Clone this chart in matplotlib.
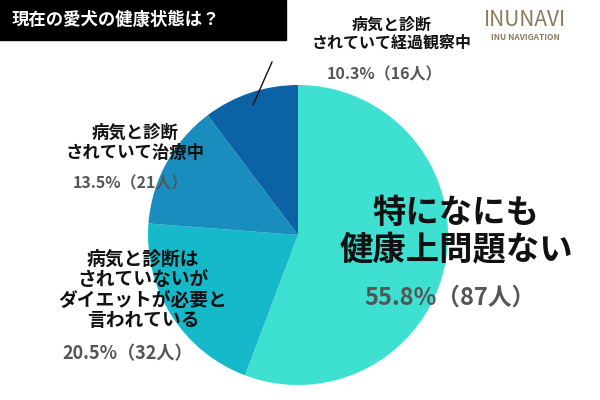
import matplotlib
matplotlib.use("Agg")
import matplotlib.pyplot as plt
from matplotlib.patches import Rectangle

plt.rcParams["font.family"] = "Noto Sans CJK JP"

title = "現在の愛犬の健康状態は？"
labels = ["特になにも\n健康上問題ない",
          "病気と診断は\nされていないが\nダイエットが必要と\n言われている",
          "病気と診断\nされていて治療中",
          "病気と診断\nされていて経過観察中"]
pcts = [55.8, 20.5, 13.5, 10.3]
counts = [87, 32, 21, 16]
colors = ["#3ee0d2", "#16b9c9", "#1a8dbf", "#0b63a6"]

fig = plt.figure(figsize=(6, 4), dpi=100)
ax = fig.add_axes([0, 0, 1, 1])

ax.pie(pcts, colors=colors, center=(298, 235), radius=150,
       startangle=-90, counterclock=True, frame=True,
       wedgeprops=dict(linewidth=0))
ax.set_xlim(0, 600)
ax.set_ylim(400, 0)
ax.set_aspect("equal")
ax.axis("off")

# title box
ax.add_patch(Rectangle((0, 0), 286, 40, color="black"))
ax.text(12, 20, title, color="white", fontsize=12.5, fontweight="bold", va="center")

# logo
ax.text(525, 20, "INUNAVI", color="#8a7a5a", fontsize=15, ha="center", va="center")
ax.text(525, 38, "INU NAVIGATION", color="#8a7a5a", fontsize=6, ha="center",
        va="center", fontweight="bold")

def pl(i):
    return f"{pcts[i]}%（{counts[i]}人）"

# big slice
ax.text(456, 232, labels[0], fontsize=24, fontweight="bold", ha="center",
        va="center", color="#111111", linespacing=1.15)
ax.text(450, 298, pl(0), fontsize=17, fontweight="bold", ha="center",
        va="center", color="#555555")

# left slices
ax.text(143, 290, labels[1], fontsize=13.5, fontweight="bold", ha="center",
        va="center", color="#111111", linespacing=1.1)
ax.text(128, 354, pl(1), fontsize=13, fontweight="bold", ha="center",
        va="center", color="#555555")
ax.text(135, 143, labels[2], fontsize=12.5, fontweight="bold", ha="center",
        va="center", color="#111111", linespacing=1.15)
ax.text(130, 183, pl(2), fontsize=11.5, fontweight="bold", ha="center",
        va="center", color="#555555")

# top slice
ax.text(392, 34, labels[3], fontsize=11.5, fontweight="bold", ha="center",
        va="center", color="#111111", linespacing=1.15)
ax.text(385, 74, pl(3), fontsize=11.5, fontweight="bold", ha="center",
        va="center", color="#555555")
ax.plot([253, 272], [105, 62], color="#111111", lw=1)

fig.savefig("out.png", dpi=100)
